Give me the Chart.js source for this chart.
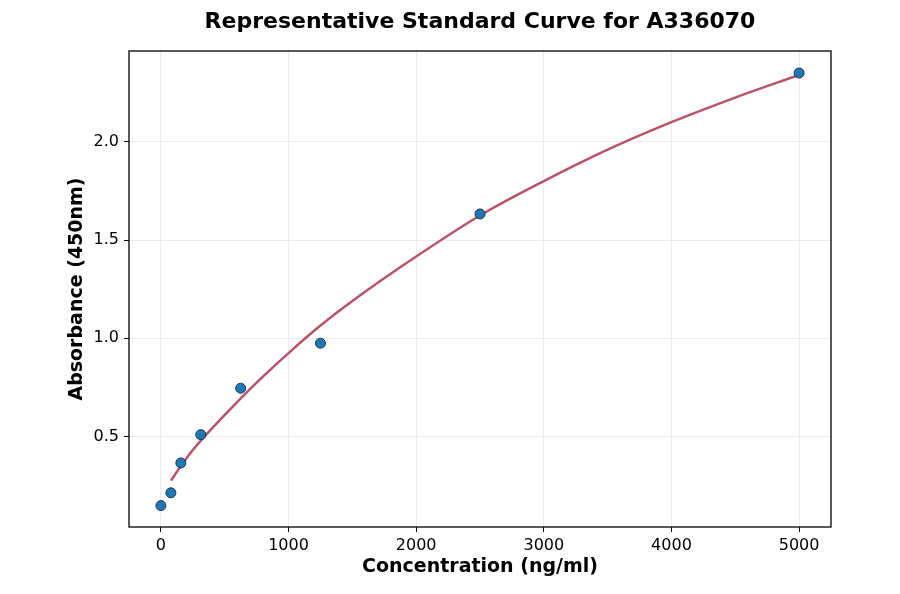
<!DOCTYPE html>
<html>
<head>
<meta charset="utf-8">
<script src="https://cdn.jsdelivr.net/npm/chart.js@4.4.1/dist/chart.umd.min.js"></script>
<style>
  html, body { margin: 0; padding: 0; background: #fff; }
  #wrap { width: 900px; height: 594px; }
</style>
</head>
<body>
<div id="wrap"><canvas id="curve"></canvas></div>
<script>
// measured standards
const concentrations = [0, 78.125, 156.25, 312.5, 625, 1250, 2500, 5000];
const absorbances    = [0.149, 0.214, 0.366, 0.510, 0.746, 0.975, 1.633, 2.350];

// fitted curve
const fitX = [78.125, 156.25, 250, 500, 750, 1000, 1250, 1500, 2000, 2500, 3000, 3500, 4000, 4500, 5000];
const fitY = [0.276, 0.350, 0.432, 0.610, 0.775, 0.925, 1.065, 1.190, 1.416, 1.625, 1.800, 1.960, 2.100, 2.225, 2.340];

const xTicks = [0, 1000, 2000, 3000, 4000, 5000];
const yTicks = [0.5, 1.0, 1.5, 2.0];

const FONT = "'DejaVu Sans', sans-serif";

// black box round the plot area
const frame = {
  id: "frame",
  afterDraw(chart) {
    const { ctx, chartArea: a } = chart;
    ctx.save();
    ctx.strokeStyle = "#000";
    ctx.lineWidth = 1.3;
    ctx.strokeRect(a.left, a.top, a.right - a.left, a.bottom - a.top);
    ctx.restore();
  }
};

const ctx = document.getElementById("curve").getContext("2d");
new Chart(ctx, {
  type: "scatter",
  data: {
    datasets: [
      {
        label: "Standards",
        data: concentrations.map((x, i) => ({ x, y: absorbances[i] })),
        pointRadius: 5,
        pointBackgroundColor: "#1f77b4",
        pointBorderColor: "#1a3550",
        pointBorderWidth: 1,
        order: 0
      },
      {
        label: "Fit",
        data: fitX.map((x, i) => ({ x, y: fitY[i] })),
        showLine: true,
        borderColor: "#b75468",
        borderWidth: 2.5,
        pointRadius: 0,
        cubicInterpolationMode: "monotone",
        order: 1
      }
    ]
  },
  options: {
    responsive: true,
    maintainAspectRatio: false,
    animation: false,
    layout: { padding: { left: 0, right: 69, top: 0, bottom: 0 } },
    plugins: {
      legend: { display: false },
      tooltip: { enabled: false },
      title: {
        display: true,
        text: "Representative Standard Curve for A336070",
        color: "#000",
        fullSize: false,
        font: { family: FONT, size: 22, weight: "bold" },
        padding: { top: 9, bottom: 15.6 }
      }
    },
    scales: {
      x: {
        type: "linear",
        min: -250,
        max: 5250,
        afterBuildTicks: s => { s.ticks = xTicks.map(v => ({ value: v })); },
        afterFit: s => { s.height = 67; },
        grid: { color: "#ebebeb", tickColor: "#000", tickLength: 5 },
        border: { display: false },
        ticks: {
          color: "#000",
          padding: 4,
          font: { family: FONT, size: 16 },
          callback: v => String(v)
        },
        title: {
          display: true,
          text: "Concentration (ng/ml)",
          color: "#000",
          font: { family: FONT, size: 19, weight: "bold" },
          padding: { top: 0, bottom: 15.6 }
        }
      },
      y: {
        type: "linear",
        min: 0.04,
        max: 2.462,
        afterBuildTicks: s => { s.ticks = yTicks.map(v => ({ value: v })); },
        afterFit: s => { s.width = 129; },
        grid: { color: "#ebebeb", tickColor: "#000", tickLength: 5 },
        border: { display: false },
        ticks: {
          color: "#000",
          padding: 5,
          font: { family: FONT, size: 16 },
          callback: v => v.toFixed(1)
        },
        title: {
          display: true,
          text: "Absorbance (450nm)",
          color: "#000",
          font: { family: FONT, size: 19, weight: "bold" },
          padding: { top: 65.6, bottom: 0 }
        }
      }
    }
  },
  plugins: [frame]
});
</script>
</body>
</html>
